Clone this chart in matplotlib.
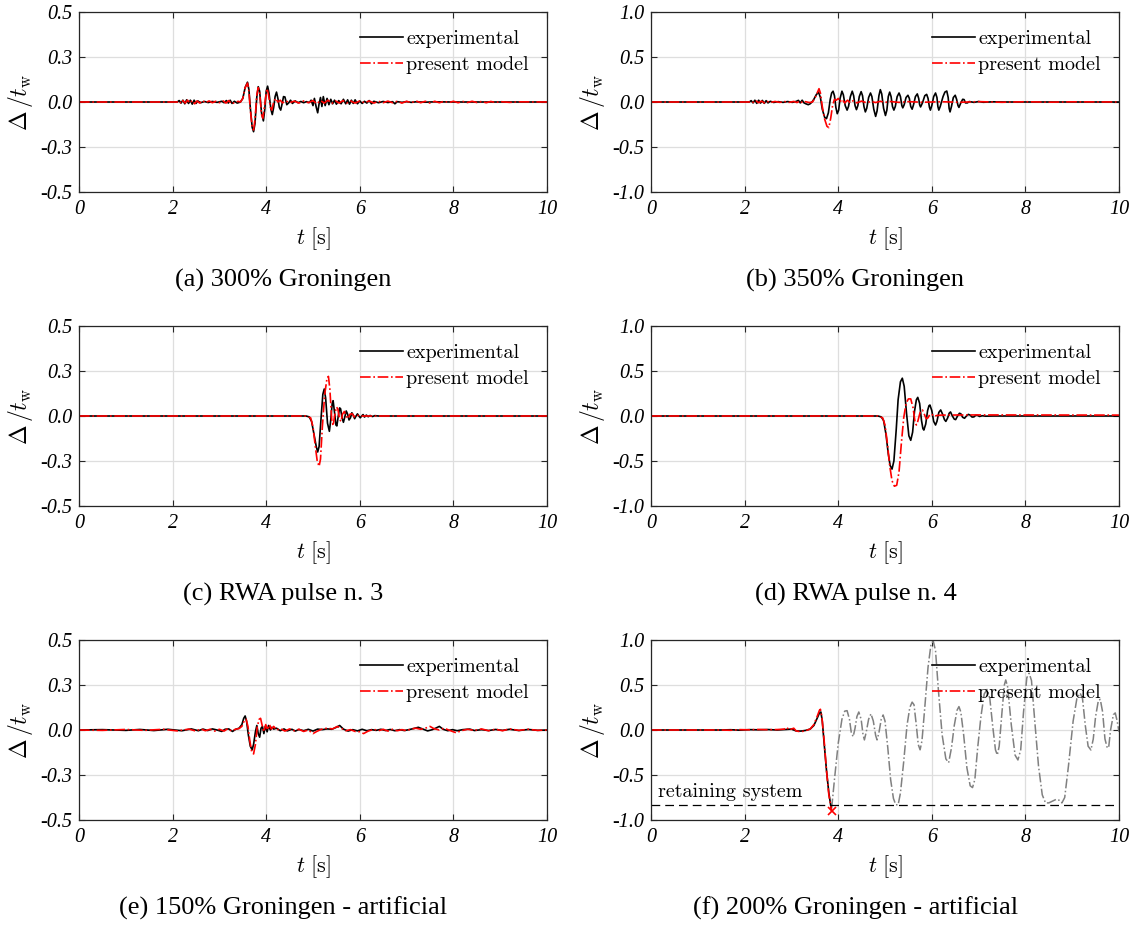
import matplotlib
matplotlib.use("Agg")
import matplotlib.pyplot as plt

plt.rcParams['mathtext.fontset'] = 'cm'

# ---------------- data (t [s], Delta/t_w) ----------------
exp_a = [(0,0),(2.10,0),(2.14,0.008),(2.18,-0.006),(2.22,0.01),(2.26,-0.01),(2.30,0.012),(2.34,-0.008),
         (2.38,0.01),(2.42,-0.012),(2.46,0.01),(2.50,-0.008),(2.54,0.006),(2.60,-0.004),(2.68,0.003),
         (2.76,-0.003),(2.85,0.003),(2.95,-0.002),(3.05,0.004),(3.10,-0.004),(3.15,0.008),(3.19,-0.006),
         (3.23,0.01),(3.27,-0.008),(3.32,0.004),(3.38,-0.006),(3.45,0.0),
         (3.50,0.02),(3.55,0.08),(3.60,0.11),(3.63,0.07),(3.66,-0.03),(3.70,-0.14),(3.73,-0.165),
         (3.76,-0.12),(3.80,0.03),(3.83,0.085),(3.86,0.06),(3.90,-0.06),(3.94,-0.105),(3.97,-0.04),
         (4.00,0.06),(4.03,0.088),(4.06,0.05),(4.10,-0.04),(4.13,-0.07),(4.16,-0.03),(4.19,0.03),
         (4.22,0.055),(4.25,0.02),(4.28,-0.03),(4.31,-0.045),(4.34,-0.01),(4.37,0.03),(4.40,0.028),
         (4.44,-0.015),(4.48,-0.005),(4.52,0.01),(4.56,-0.008),(4.62,0.006),(4.68,-0.004),(4.74,0.003),
         (4.80,-0.004),(4.86,0.002),(4.92,-0.003),
         (4.96,0.01),(5.00,-0.02),(5.03,0.02),(5.07,-0.03),(5.10,-0.06),(5.13,-0.01),(5.16,0.025),
         (5.19,-0.025),(5.22,0.03),(5.26,-0.02),(5.30,0.02),(5.34,-0.015),(5.38,0.015),(5.42,-0.01),
         (5.46,0.01),(5.50,-0.012),(5.55,0.008),(5.60,-0.01),(5.65,0.015),(5.70,-0.01),(5.74,0.012),
         (5.78,-0.012),(5.82,0.01),(5.86,-0.008),(5.90,0.012),(5.95,-0.01),(6.00,0.006),(6.05,-0.008),
         (6.10,0.004),(6.15,-0.006),(6.20,0.008),(6.25,-0.01),(6.30,0.004),(6.40,-0.004),(6.50,0.003),
         (6.60,-0.003),(6.70,0.002),(6.75,-0.01),(6.80,0.002),(6.90,-0.002),(7.0,0.002),(7.1,-0.002),
         (7.2,0.001),(7.4,-0.001),(7.6,0.001),(8.0,0),(10,0)]
mod_a = [(0,0),(2.10,0),(2.14,0.006),(2.18,-0.008),(2.22,0.008),(2.27,-0.006),(2.32,0.01),(2.37,-0.006),
         (2.42,0.008),(2.47,-0.01),(2.52,0.006),(2.58,-0.006),(2.64,0.008),(2.70,-0.004),(2.78,0.006),
         (2.85,-0.004),(2.92,0.004),(3.00,-0.004),(3.08,0.006),(3.14,-0.006),(3.20,0.008),(3.26,-0.01),
         (3.32,-0.004),(3.40,0.004),(3.45,0.0),
         (3.50,0.02),(3.55,0.08),(3.60,0.105),(3.63,0.06),(3.66,-0.04),(3.70,-0.14),(3.73,-0.155),
         (3.76,-0.10),(3.80,0.04),(3.83,0.08),(3.86,0.05),(3.90,-0.07),(3.93,-0.09),(3.96,-0.03),
         (4.00,0.05),(4.02,0.075),(4.05,0.04),(4.09,-0.03),(4.12,-0.045),(4.16,0.0),(4.20,0.02),
         (4.25,0.0),(4.30,0.01),(4.35,-0.005),(4.42,0.006),(4.50,-0.004),(4.60,0.005),(4.70,-0.006),
         (4.80,0.006),(4.90,-0.004),(5.00,0.008),(5.08,-0.01),(5.16,0.008),(5.24,-0.006),(5.32,0.01),
         (5.40,-0.008),(5.48,0.006),(5.56,-0.006),(5.64,0.008),(5.72,-0.006),(5.80,0.006),(5.90,-0.006),
         (6.00,0.006),(6.10,-0.004),(6.20,0.006),(6.30,-0.006),(6.40,0.004),(6.50,-0.004),(6.60,0.005),
         (6.70,-0.004),(6.80,0.004),(6.90,-0.006),(7.00,0.004),(7.10,-0.004),(7.20,0.006),(7.30,-0.004),
         (7.40,0.004),(7.50,-0.006),(7.60,0.004),(7.70,-0.004),(7.80,0.004),(7.90,-0.003),(8.00,0.004),
         (8.10,-0.004),(8.20,0.003),(8.30,-0.003),(8.40,0.004),(8.50,-0.003),(8.60,0.003),(8.70,-0.004),
         (8.80,0.003),(8.90,-0.003),(9.00,0.002),(9.20,-0.002),(9.40,0.001),(10,0)]

exp_b = [(0,0),(2.10,0),(2.14,0.015),(2.18,-0.01),(2.22,0.02),(2.26,-0.015),(2.30,0.02),(2.34,-0.012),
         (2.38,0.018),(2.42,-0.015),(2.46,0.015),(2.50,-0.01),(2.55,0.008),(2.62,-0.005),(2.72,0.004),
         (2.82,-0.004),(2.92,0.005),(3.02,-0.004),(3.10,0.006),(3.15,0.018),(3.19,-0.01),(3.23,0.02),
         (3.27,-0.01),(3.31,-0.02),(3.36,-0.03),(3.40,-0.02),(3.44,0.0),(3.48,0.03),(3.53,0.08),
         (3.58,0.11),(3.62,0.05),(3.66,-0.08),(3.71,-0.17),(3.75,-0.185),(3.79,-0.12),(3.83,0.03),
         (3.86,0.10),(3.89,0.12),(3.92,0.07),(3.95,-0.06),(3.98,-0.13),(4.01,-0.09),(4.04,0.04),
         (4.08,0.12),(4.11,0.08),(4.15,-0.04),(4.19,-0.09),(4.22,-0.05),(4.26,0.06),(4.30,0.12),
         (4.33,0.07),(4.36,-0.04),(4.39,-0.085),(4.42,-0.04),(4.45,0.06),(4.49,0.115),(4.52,0.07),
         (4.55,-0.05),(4.58,-0.11),(4.61,-0.07),(4.65,0.05),(4.69,0.10),(4.72,0.06),(4.76,-0.08),
         (4.80,-0.16),(4.83,-0.10),(4.87,0.07),(4.90,0.137),(4.93,0.09),(4.97,-0.07),(5.01,-0.15),
         (5.04,-0.09),(5.07,0.06),(5.10,0.11),(5.13,0.06),(5.16,-0.05),(5.19,-0.09),(5.22,-0.05),
         (5.26,0.06),(5.30,0.10),(5.33,0.06),(5.36,-0.04),(5.38,-0.065),(5.41,-0.03),(5.45,0.05),
         (5.49,0.075),(5.52,0.04),(5.55,-0.05),(5.58,-0.08),(5.61,-0.03),(5.65,0.06),(5.69,0.09),
         (5.72,0.04),(5.74,-0.03),(5.76,-0.055),(5.80,-0.01),(5.85,0.07),(5.89,0.085),(5.92,0.04),
         (5.95,-0.06),(5.97,-0.09),(6.00,-0.04),(6.04,0.06),(6.08,0.10),(6.11,0.05),(6.13,-0.05),
         (6.15,-0.09),(6.18,-0.05),(6.24,0.06),(6.28,0.11),(6.32,0.122),(6.35,0.05),(6.37,-0.07),
         (6.39,-0.11),(6.42,-0.05),(6.46,0.05),(6.50,0.075),(6.53,0.03),(6.56,-0.04),(6.58,-0.06),
         (6.62,-0.01),(6.66,0.03),(6.69,0.027),(6.72,-0.01),(6.76,-0.01),(6.80,0.005),(6.9,-0.004),
         (7.0,0.005),(7.1,-0.003),(7.3,0.002),(7.6,0),(10,0)]
mod_b = [(0,0),(2.10,0),(2.15,0.008),(2.20,-0.01),(2.25,0.01),(2.30,-0.008),(2.36,0.01),(2.42,-0.01),
         (2.48,0.008),(2.55,-0.006),(2.65,0.006),(2.75,-0.004),(2.85,0.005),(2.95,-0.004),(3.05,0.006),
         (3.12,-0.006),(3.18,0.012),(3.24,-0.01),(3.30,0.004),(3.38,-0.006),(3.45,0.0),(3.50,0.04),
         (3.55,0.10),(3.59,0.148),(3.62,0.10),(3.66,-0.05),(3.71,-0.19),(3.76,-0.27),(3.80,-0.285),
         (3.84,-0.18),(3.88,-0.04),(3.92,0.03),(3.96,0.02),(4.00,0.04),(4.04,0.0),(4.08,0.03),
         (4.14,-0.01),(4.20,0.02),(4.26,-0.01),(4.32,0.015),(4.40,-0.01),(4.50,0.01),(4.60,-0.008),
         (4.70,0.006),(4.80,-0.006),(4.90,0.008),(5.00,-0.005),(5.10,0.006),(5.30,-0.004),(5.50,0.004),
         (5.80,-0.003),(6.20,0.003),(6.60,-0.003),(7.00,0.004),(7.50,-0.003),(8.00,0.003),(8.50,-0.002),
         (9.00,0.002),(10,0)]

exp_c = [(0,0),(4.85,0),(4.92,-0.005),(4.97,-0.03),(5.02,-0.10),(5.07,-0.17),(5.10,-0.20),(5.13,-0.17),
         (5.17,-0.02),(5.21,0.12),(5.24,0.15),(5.27,0.10),(5.31,-0.04),(5.35,-0.085),(5.38,-0.02),
         (5.41,0.07),(5.43,0.085),(5.46,0.02),(5.49,-0.05),(5.51,-0.055),(5.54,0.0),(5.57,0.045),
         (5.59,0.04),(5.62,-0.01),(5.65,-0.035),(5.68,-0.005),(5.71,0.028),(5.74,0.01),(5.77,-0.022),
         (5.80,-0.01),(5.83,0.018),(5.86,0.005),(5.89,-0.015),(5.92,0.0),(5.95,0.012),(5.98,0.0),
         (6.01,-0.01),(6.04,0.0),(6.07,0.008),(6.10,-0.006),(6.14,0.005),(6.18,-0.004),(6.22,0.003),
         (6.27,-0.003),(6.32,0.002),(6.40,0),(10,0)]
mod_c = [(0,0),(4.85,0),(4.95,-0.01),(5.00,-0.06),(5.05,-0.17),(5.09,-0.25),(5.13,-0.28),(5.16,-0.24),
         (5.20,-0.06),(5.25,0.12),(5.30,0.21),(5.33,0.22),(5.36,0.15),(5.40,-0.02),(5.43,-0.055),
         (5.46,0.0),(5.50,0.05),(5.53,0.04),(5.57,-0.02),(5.60,-0.03),(5.63,0.01),(5.67,0.025),
         (5.71,0.0),(5.75,-0.015),(5.79,0.01),(5.84,0.012),(5.88,-0.005),(5.93,0.006),(6.00,0.0),(10,0)]

exp_d = [(0,0),(4.85,0),(4.92,-0.01),(4.97,-0.05),(5.02,-0.20),(5.07,-0.42),(5.11,-0.55),(5.15,-0.59),
         (5.19,-0.50),(5.24,-0.15),(5.28,0.18),(5.33,0.38),(5.37,0.42),(5.41,0.33),(5.46,0.03),
         (5.51,-0.22),(5.55,-0.27),(5.59,-0.18),(5.63,0.05),(5.67,0.18),(5.70,0.207),(5.74,0.14),
         (5.78,-0.05),(5.81,-0.14),(5.83,-0.156),(5.87,-0.09),(5.91,0.06),(5.94,0.115),(5.96,0.122),
         (6.00,0.06),(6.04,-0.06),(6.08,-0.10),(6.11,-0.06),(6.15,0.04),(6.19,0.067),(6.23,0.02),
         (6.27,-0.04),(6.30,-0.06),(6.34,-0.02),(6.37,0.03),(6.40,0.045),(6.44,0.0),(6.48,-0.035),
         (6.51,-0.04),(6.55,0.0),(6.59,0.03),(6.62,0.025),(6.66,-0.015),(6.70,-0.025),(6.74,0.0),
         (6.78,0.018),(6.82,0.01),(6.86,-0.012),(6.90,-0.01),(6.94,0.008),(6.98,0.006),(7.02,-0.005),
         (7.08,0.003),(7.15,-0.002),(7.30,0),(10,0)]
mod_d = [(0,0),(4.85,0),(4.95,-0.02),(5.00,-0.10),(5.05,-0.30),(5.10,-0.55),(5.15,-0.72),(5.20,-0.78),
         (5.25,-0.77),(5.30,-0.62),(5.35,-0.30),(5.40,-0.02),(5.45,0.14),(5.50,0.19),(5.55,0.19),
         (5.60,0.09),(5.64,-0.06),(5.67,-0.10),(5.70,-0.06),(5.75,0.04),(5.80,0.067),(5.84,0.02),
         (5.88,-0.03),(5.92,-0.02),(5.96,0.02),(6.00,0.02),(6.05,-0.005),(6.10,0.005),(6.20,0.01),
         (7.00,0.012),(10,0.01)]

exp_e = [(0,0),(0.5,0.002),(1.0,-0.002),(1.3,0.003),(1.6,-0.003),(1.9,0.004),(2.2,-0.004),(2.4,0.006),
         (2.55,-0.004),(2.65,0.005),(2.75,-0.003),(2.85,0.006),(2.95,0.0),(3.05,-0.008),(3.12,0.004),
         (3.20,0.006),(3.28,-0.008),(3.35,0.004),(3.42,0.01),(3.48,0.03),(3.52,0.065),(3.55,0.078),
         (3.58,0.05),(3.62,-0.03),(3.66,-0.09),(3.70,-0.11),(3.73,-0.08),(3.77,-0.01),(3.80,0.025),
         (3.83,-0.02),(3.86,-0.04),(3.89,0.01),(3.92,0.02),(3.95,-0.02),(3.98,0.02),(4.02,-0.01),
         (4.05,0.025),(4.09,0.0),(4.12,0.015),(4.16,0.005),(4.22,0.01),(4.30,-0.004),(4.38,0.006),
         (4.45,-0.005),(4.55,0.004),(4.62,-0.006),(4.70,0.003),(4.80,-0.004),(4.90,0.004),(5.00,-0.006),
         (5.10,0.005),(5.20,0.002),(5.30,0.006),(5.40,0.004),(5.50,0.015),(5.57,0.025),(5.65,0.005),
         (5.75,-0.006),(5.85,0.002),(5.95,-0.005),(6.05,0.004),(6.15,-0.004),(6.25,0.002),(6.35,-0.002),
         (6.45,0.004),(6.55,-0.003),(6.65,0.003),(6.75,-0.004),(6.85,0.002),(6.95,-0.003),(7.05,0.002),
         (7.15,0.008),(7.25,0.015),(7.35,0.005),(7.45,-0.005),(7.55,0.002),(7.62,0.01),(7.70,0.02),
         (7.78,0.004),(7.88,-0.004),(7.98,0.002),(8.08,-0.004),(8.20,0.002),(8.35,0.005),(8.45,-0.003),
         (8.60,0.002),(8.75,-0.003),(8.90,0.003),(9.05,-0.002),(9.20,0.004),(9.40,-0.003),(9.60,0.003),
         (9.80,-0.002),(10,0.0)]
mod_e = [(0,0),(0.5,-0.002),(1.0,0.003),(1.4,-0.002),(1.8,0.004),(2.1,-0.005),(2.35,0.005),(2.5,-0.006),
         (2.6,0.006),(2.7,-0.004),(2.8,0.004),(2.9,-0.006),(3.0,0.004),(3.1,-0.006),(3.18,0.008),
         (3.26,-0.006),(3.34,0.004),(3.42,0.008),(3.48,0.02),(3.53,0.05),(3.57,0.06),(3.61,0.02),
         (3.65,-0.06),(3.69,-0.12),(3.73,-0.133),(3.77,-0.08),(3.81,0.02),(3.85,0.06),(3.88,0.065),
         (3.91,0.03),(3.95,-0.01),(3.99,0.03),(4.03,0.0),(4.07,0.03),(4.11,0.005),(4.16,0.02),
         (4.22,0.0),(4.30,0.008),(4.40,-0.006),(4.50,0.006),(4.60,-0.004),(4.70,0.004),(4.80,-0.008),
         (4.90,0.0),(5.00,-0.02),(5.08,-0.008),(5.18,0.004),(5.30,0.01),(5.42,0.006),(5.52,0.02),
         (5.60,0.01),(5.70,-0.004),(5.80,0.002),(5.90,-0.008),(6.00,-0.01),(6.08,-0.02),(6.18,-0.006),
         (6.30,0.004),(6.40,-0.004),(6.50,0.004),(6.60,-0.006),(6.70,0.004),(6.80,-0.004),(6.90,0.002),
         (7.00,-0.004),(7.10,0.006),(7.20,0.01),(7.30,0.004),(7.42,0.012),(7.50,0.02),(7.58,0.008),
         (7.70,0.0),(7.80,0.01),(7.90,0.0),(8.00,-0.01),(8.07,-0.016),(8.15,-0.005),(8.30,0.004),
         (8.45,-0.002),(8.60,0.006),(8.75,-0.004),(8.90,0.004),(9.05,-0.004),(9.20,0.006),(9.40,-0.002),
         (9.60,0.004),(9.80,-0.002),(10,0.0)]

exp_f = [(0,0),(1.5,0.0),(1.7,0.003),(1.9,-0.002),(2.1,0.004),(2.3,0.002),(2.5,0.005),(2.7,0.0),
         (2.9,0.006),(3.0,0.01),(3.1,-0.01),(3.2,-0.012),(3.3,-0.005),(3.4,0.01),(3.48,0.05),
         (3.55,0.13),(3.60,0.19),(3.63,0.20),(3.66,0.10),(3.70,-0.15),(3.75,-0.45),(3.80,-0.70),
         (3.85,-0.87)]
mod_f = [(0,0),(1.5,0.0),(1.7,-0.003),(1.9,0.004),(2.1,0.002),(2.3,0.006),(2.5,0.003),(2.7,0.005),
         (2.85,0.01),(2.90,0.03),(2.95,0.0),(3.00,0.01),(3.05,0.02),(3.10,-0.01),(3.20,-0.02),
         (3.30,-0.008),(3.40,0.01),(3.48,0.06),(3.55,0.15),(3.60,0.22),(3.62,0.23),(3.65,0.15),
         (3.70,-0.12),(3.75,-0.45),(3.80,-0.72),(3.86,-0.90)]
collapse_f = (3.86, -0.90)
post_f = [(3.86,-0.87),(3.92,-0.55),(4.00,-0.15),(4.08,0.12),(4.14,0.21),(4.19,0.215),(4.24,0.12),
          (4.28,-0.03),(4.32,-0.074),(4.36,0.02),(4.40,0.15),(4.44,0.20),(4.49,0.12),(4.53,-0.05),
          (4.56,-0.11),(4.60,-0.02),(4.65,0.12),(4.70,0.18),(4.75,0.10),(4.80,-0.06),(4.83,-0.11),
          (4.87,-0.03),(4.92,0.12),(4.96,0.167),(5.00,0.10),(5.06,-0.20),(5.12,-0.55),(5.18,-0.76),
          (5.23,-0.83),(5.28,-0.833),(5.33,-0.70),(5.40,-0.35),(5.47,0.05),(5.53,0.25),(5.58,0.31),
          (5.62,0.28),(5.67,0.05),(5.71,-0.16),(5.75,-0.22),(5.79,-0.12),(5.85,0.25),(5.92,0.70),
          (5.98,0.94),(6.03,0.99),(6.08,0.88),(6.14,0.45),(6.22,-0.05),(6.30,-0.32),(6.36,-0.363),
          (6.42,-0.20),(6.48,0.05),(6.54,0.22),(6.58,0.26),(6.62,0.20),(6.68,-0.05),(6.75,-0.42),
          (6.82,-0.62),(6.87,-0.64),(6.92,-0.55),(6.98,-0.20),(7.05,0.15),(7.12,0.40),(7.18,0.45),
          (7.24,0.35),(7.30,0.05),(7.36,-0.22),(7.40,-0.278),(7.44,-0.18),(7.50,0.20),(7.55,0.50),
          (7.58,0.556),(7.62,0.48),(7.70,0.05),(7.78,-0.28),(7.84,-0.333),(7.90,-0.22),(7.96,0.20),
          (8.03,0.58),(8.08,0.63),(8.13,0.55),(8.20,0.10),(8.28,-0.40),(8.36,-0.72),(8.43,-0.81),
          (8.50,-0.81),(8.58,-0.79),(8.66,-0.77),(8.72,-0.78),(8.78,-0.81),(8.84,-0.75),(8.92,-0.40),
          (9.02,0.10),(9.10,0.35),(9.17,0.41),(9.22,0.35),(9.28,0.05),(9.34,-0.18),(9.40,-0.222),
          (9.45,-0.10),(9.50,0.15),(9.56,0.33),(9.60,0.34),(9.65,0.20),(9.70,-0.10),(9.75,-0.20),
          (9.78,-0.19),(9.82,0.0),(9.88,0.17),(9.92,0.19),(9.96,0.10),(10.0,-0.02)]
retaining_level = -0.83

captions = ["(a) 300% Groningen", "(b) 350% Groningen", "(c) RWA pulse n. 3",
            "(d) RWA pulse n. 4", "(e) 150% Groningen - artificial", "(f) 200% Groningen - artificial"]
x_ticks = [0, 2, 4, 6, 8, 10]
x_ticklabels = ["0", "2", "4", "6", "8", "10"]
y_ticks_small = [-0.5, -0.25, 0, 0.25, 0.5]
y_labels_small = ["-0.5", "-0.3", "0.0", "0.3", "0.5"]
y_ticks_large = [-1.0, -0.5, 0, 0.5, 1.0]
y_labels_large = ["-1.0", "-0.5", "0.0", "0.5", "1.0"]

panels = [(exp_a, mod_a), (exp_b, mod_b), (exp_c, mod_c), (exp_d, mod_d), (exp_e, mod_e), (exp_f, mod_f)]

# ---------------- layout ----------------
W, H = 1136, 926
fig = plt.figure(figsize=(W / 100, H / 100), dpi=100)
col_left = [79, 651]
ax_w = 468
row_top = [12, 326, 640]
ax_h = 180
cap_x = [283.5, 855.5]
cap_base = [287, 601, 915]

for i, (ex, md) in enumerate(panels):
    r, c = divmod(i, 2)
    x0, y0 = col_left[c], row_top[r]
    ax = fig.add_axes([x0 / W, 1 - (y0 + ax_h) / H, ax_w / W, ax_h / H])
    big = (c == 1)
    lim = 1.0 if big else 0.5
    ax.set_xlim(0, 10)
    ax.set_ylim(-lim, lim)
    ax.set_xticks(x_ticks)
    ax.set_xticklabels(x_ticklabels, fontfamily='Liberation Serif', fontstyle='italic', fontsize=14.5)
    ax.set_yticks(y_ticks_large if big else y_ticks_small)
    ax.set_yticklabels(y_labels_large if big else y_labels_small,
                       fontfamily='Liberation Serif', fontstyle='italic', fontsize=14.5)
    ax.tick_params(direction='in', top=True, right=True, length=4, width=0.8, color='#262626')
    ax.tick_params(axis='x', pad=6)
    ax.tick_params(axis='y', pad=5)
    ax.grid(True, color='#dedede', lw=0.9)
    ax.set_axisbelow(True)
    for s in ax.spines.values():
        s.set_color('#262626')
        s.set_linewidth(0.9)

    te, ve = zip(*ex)
    tm, vm = zip(*md)
    ax.plot(te, ve, color='black', lw=1.2, label='experimental')
    ax.plot(tm, vm, color='red', lw=1.2, ls='-.', label='present model')

    if i == 5:
        tp, vp = zip(*post_f)
        ax.plot(tp, vp, color='#808080', lw=1.1, ls='-.', zorder=1.5)
        ax.axhline(retaining_level, color='black', lw=0.9, ls=(0, (7, 4)))
        ax.plot([collapse_f[0]], [collapse_f[1]], marker='x', color='red', ms=6, mew=1.2)
        ax.text(0.15, -0.745, 'retaining system', fontfamily='cmr10', fontsize=14.5, va='baseline')

    ax.legend(loc='upper right', frameon=False, prop={'family': 'cmr10', 'size': 14.5},
              handlelength=2.15, handletextpad=0.15, labelspacing=0.36,
              borderaxespad=0.3, borderpad=0.6)

    ax.set_xlabel(r'$t\ [\mathrm{s}]$', fontsize=16)
    ax.xaxis.set_label_coords(0.5, -0.185)
    ax.set_ylabel(r'$\Delta\,/t_{\mathrm{w}}$', fontsize=17)
    ax.yaxis.set_label_coords(-0.094, 0.5)

    fig.text(cap_x[c] / W, 1 - cap_base[r] / H, captions[i], ha='center', va='baseline',
             fontfamily='Liberation Serif', fontsize=19)

fig.savefig('out.png', dpi=100)
